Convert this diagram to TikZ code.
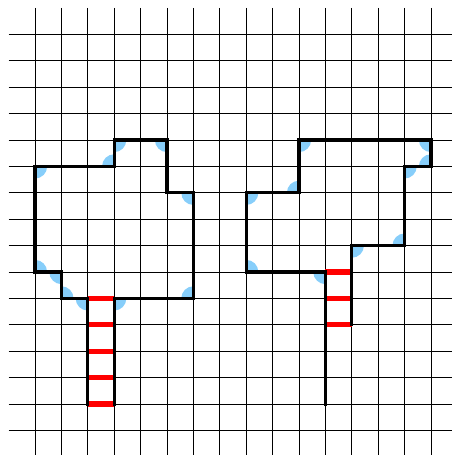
\documentclass[tikz,border=0pt]{standalone}
\definecolor{dotblue}{RGB}{135,206,250}
\tikzset{
  gridline/.style={black, line width=0.8pt},
  wall/.style={black, line width=3.6pt, line join=miter, line cap=rect},
  rung/.style={red, line width=5.8pt},
  dot/.style={fill=dotblue},
}
\newcommand{\qd}[3]{% column, row, start angle
  \fill[dot] (#1,-#2) -- ++(#3:0.46) arc[start angle=#3, end angle=#3+90, radius=0.46] -- cycle;}
\begin{document}
\begin{tikzpicture}
\useasboundingbox (-0.326,0.303) rectangle (16.795,-16.932);
% grid
\foreach \r in {1,...,16} \draw[gridline] (0,-\r) -- (16.795,-\r);
\foreach \c in {1,...,16} \draw[gridline] (\c,0) -- (\c,-16.932);
% blue corner marks, left shape
\qd{4}{5}{-90} \qd{6}{5}{180} \qd{4}{6}{90} \qd{1}{6}{-90}
\qd{7}{7}{180} \qd{1}{10}{0} \qd{2}{10}{180} \qd{2}{11}{0}
\qd{3}{11}{180} \qd{4}{11}{-90} \qd{7}{11}{90}
% blue corner marks, right shape
\qd{11}{5}{-90} \qd{16}{5}{180} \qd{16}{6}{90} \qd{15}{6}{-90}
\qd{11}{7}{90} \qd{9}{7}{-90} \qd{15}{9}{90} \qd{13}{9}{-90}
\qd{9}{10}{0} \qd{12}{10}{180}
% red rungs
\foreach \r in {11,...,15} \draw[rung] (3,-\r) -- (4,-\r);
\foreach \r in {10,11,12} \draw[rung] (12,-\r) -- (13,-\r);
% walls
\draw[wall] (3,-15) -- (3,-11) -- (2,-11) -- (2,-10) -- (1,-10) -- (1,-6) -- (4,-6) -- (4,-5) -- (6,-5) -- (6,-7) -- (7,-7) -- (7,-11) -- (4,-11) -- (4,-15);
\draw[wall] (12,-15) -- (12,-10) -- (9,-10) -- (9,-7) -- (11,-7) -- (11,-5) -- (16,-5) -- (16,-6) -- (15,-6) -- (15,-9) -- (13,-9) -- (13,-12);
\end{tikzpicture}
\end{document}
